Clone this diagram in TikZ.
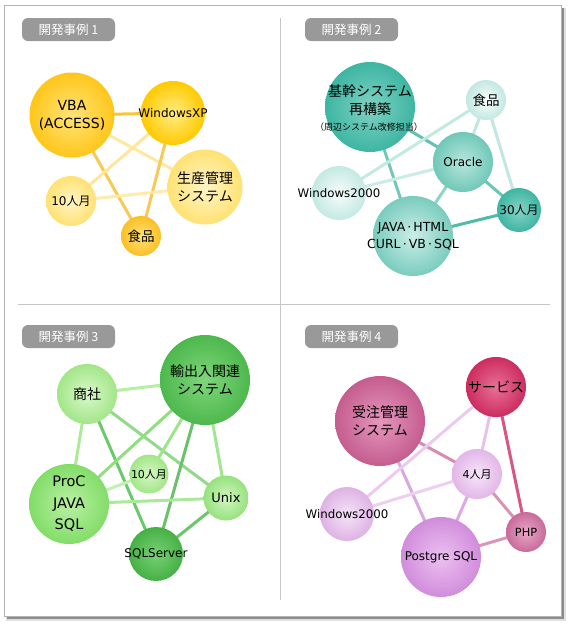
\documentclass[tikz,border=0pt]{standalone}
\usepackage{fontspec}
\setmainfont{DejaVu Sans}
\newfontfamily\jp{Noto Sans CJK JP}
\pgfdeclarelayer{bg}
\pgfdeclarelayer{edges}
\pgfsetlayers{bg,edges,main}
\tikzset{
  ball/.style n args={3}{circle, inner sep=0pt, minimum size=#1pt,
    /utils/exec={\definecolor{tmpo}{HTML}{#2}\definecolor{tmpi}{HTML}{#3}},
    outer color=tmpo, inner color=tmpi},
  lbl/.style={align=center, text=black, inner sep=0pt, font=\fontsize{#1}{18}\selectfont},
  jlbl/.style={align=center, text=black, inner sep=0pt, font=\jp\fontsize{#1}{18}\selectfont},
  edge/.style={line width=3pt, /utils/exec={\definecolor{tmpe}{HTML}{#1}}, draw=tmpe},
  tag/.style={fill=black!40, rounded corners=6pt, minimum width=93pt, minimum height=23pt, inner sep=0pt, text=white, font=\jp\fontsize{12.5}{14}\selectfont},
}
\begin{document}
\begin{tikzpicture}[x=1pt,y=-1pt]
\useasboundingbox (0,0) rectangle (570,630);
\begin{pgfonlayer}{bg}
  \fill[black!12] (6,8) rectangle (566,621);
  \fill[black!45] (7,8) rectangle (564,619);
  \draw[fill=white, draw=black!30, line width=1pt] (4,5) rectangle (561,616);
  \draw[black!22, line width=1pt] (280,18) -- (280,600);
  \draw[black!22, line width=1pt] (18,304) -- (550,304);
\end{pgfonlayer}
% tags
\node[tag] (t1) at (68.5,29.5) {開発事例 1};
\node[tag] (t2) at (351.5,29.5) {開発事例 2};
\node[tag] (t3) at (68.5,336.5) {開発事例 3};
\node[tag] (t4) at (351.5,336.5) {開発事例 4};

% ---------- panel 1
\node[ball={85}{FFC61A}{FFE47A}] (vba) at (72,115) {};
\node[lbl=14] (vbat) at (vba) {VBA\\(ACCESS)};
\node[ball={64}{FFCA00}{FFEC85}] (wxp) at (173,113) {};
\node[lbl=12] (wxpt) at (wxp) {WindowsXP};
\node[ball={75}{FFE273}{FFF4C6}] (seisan) at (205,187) {};
\node[jlbl=14] (seisant) at (seisan) {生産管理\\システム};
\node[ball={50}{FFE273}{FFF4C6}] (m10a) at (71,201) {};
\node[lbl=12] (m10at) at (m10a) {10{\jp 人月}};
\node[ball={40}{FBBF24}{FFE27A}] (food1) at (141,236) {};
\node[jlbl=13.5] (food1t) at (food1) {食品};
\begin{pgfonlayer}{edges}
  \draw[edge=F7C637] (vba.center) -- (wxp.center);
  \draw[edge=FFE8A0] (vba.center) -- (seisan.center);
  \draw[edge=F8CA55] (vba.center) -- (food1.center);
  \draw[edge=FFE69C] (wxp.center) -- (m10a.center);
  \draw[edge=F8CA55] (wxp.center) -- (food1.center);
  \draw[edge=FFEBAC] (m10a.center) -- (seisan.center);
\end{pgfonlayer}

% ---------- panel 2
\node[ball={90}{3DB6A2}{80D1C3}] (kikan) at (370,107) {};
\node[jlbl=14, anchor=north] (kikant) at (370,85) {基幹システム\\再構築};
\node[jlbl=9, anchor=north] (kikans) at (369,123) {（周辺システム改修担当）};
\node[ball={40}{C2E8E1}{FAFDFC}] (food2) at (486,100) {};
\node[jlbl=13.5] (food2t) at (food2) {食品};
\node[ball={60}{70C8B8}{B8E6DD}] (oracle) at (463,162) {};
\node[lbl=12] (oraclet) at (oracle) {Oracle};
\node[ball={54}{C4E9E2}{F7FCFB}] (w2k2) at (339,193) {};
\node[lbl=11.8] (w2k2t) at (w2k2) {Windows2000};
\node[ball={44}{3FB5A2}{86D3C6}] (m30) at (519,210) {};
\node[lbl=12] (m30t) at (m30) {30{\jp 人月}};
\node[ball={80}{7ACCBE}{CBEEE8}] (java2) at (413,236) {};
\node[lbl=12.5, font=\fontsize{12.5}{17}\selectfont] (java2t) at (java2) {JAVA\,·\,HTML\\CURL\,·\,VB\,·\,SQL};
\begin{pgfonlayer}{edges}
  \draw[edge=62C2B2] (kikan.center) -- (oracle.center);
  \draw[edge=72C7B8] (kikan.center) -- (java2.center);
  \draw[edge=C3E9E2] (food2.center) -- (w2k2.center);
  \draw[edge=C0E7E0] (food2.center) -- (oracle.center);
  \draw[edge=C0E7E0] (food2.center) -- (m30.center);
  \draw[edge=CAECE6] (oracle.center) -- (w2k2.center);
  \draw[edge=8FD4C7] (oracle.center) -- (java2.center);
  \draw[edge=6CC5B5] (oracle.center) -- (m30.center);
  \draw[edge=52BAA8] (java2.center) -- (m30.center);
\end{pgfonlayer}

% ---------- panel 3
\node[ball={60}{A2E688}{DAF8CB}] (shosha) at (87,394) {};
\node[jlbl=14] (shoshat) at (shosha) {商社};
\node[ball={90}{4DB84D}{80D67B}] (yushutsu) at (205,380) {};
\node[jlbl=14] (yushutsut) at (yushutsu) {輸出入関連\\システム};
\node[ball={39}{A2E688}{D6F7C7}] (m10c) at (149,474) {};
\node[lbl=11] (m10ct) at (m10c) {10{\jp 人月}};
\node[ball={80}{82DD68}{BAF0A4}] (proc) at (69,504) {};
\node[lbl=14.5, font=\fontsize{14.5}{21.5}\selectfont] (proct) at (proc) {ProC\\JAVA\\SQL};
\node[ball={45}{96E27C}{D2F6C3}] (unix) at (226,498) {};
\node[lbl=13] (unixt) at (unix) {Unix};
\node[ball={54}{46B046}{78D173}] (sqls) at (156,554) {};
\node[lbl=12] (sqlst) at (sqls) {SQLServer};
\begin{pgfonlayer}{edges}
  \draw[edge=B6EEA2] (shosha.center) -- (yushutsu.center);
  \draw[edge=AEE99A] (shosha.center) -- (proc.center);
  \draw[edge=6CC86C] (shosha.center) -- (sqls.center);
  \draw[edge=90DA8A] (shosha.center) -- (unix.center);
  \draw[edge=90DF7D] (yushutsu.center) -- (proc.center);
  \draw[edge=9DE48B] (yushutsu.center) -- (m10c.center);
  \draw[edge=6BC06B] (yushutsu.center) -- (sqls.center);
  \draw[edge=A2E692] (yushutsu.center) -- (unix.center);
  \draw[edge=C2F0B2] (proc.center) -- (m10c.center);
  \draw[edge=AAE89C] (proc.center) -- (unix.center);
  \draw[edge=6CC46C] (unix.center) -- (sqls.center);
\end{pgfonlayer}

% ---------- panel 4
\node[ball={60}{CC2C5E}{E87199}] (service) at (496,387) {};
\node[jlbl=14] (servicet) at (service) {サービス};
\node[ball={90}{C55D8F}{E497BD}] (juchu) at (380,421) {};
\node[jlbl=14] (juchut) at (juchu) {受注管理\\システム};
\node[ball={50}{E2B6E8}{F7E6F9}] (m4) at (477,474) {};
\node[lbl=11] (m4t) at (m4) {4{\jp 人月}};
\node[ball={54}{DEB2E4}{F6E4F8}] (w2k4) at (347,514) {};
\node[lbl=11.8] (w2k4t) at (w2k4) {Windows2000};
\node[ball={40}{C86A9B}{E8A8C6}] (php) at (526,532) {};
\node[lbl=11.3] (phpt) at (php) {PHP};
\node[ball={80}{D18DDB}{ECC0F1}] (pg) at (441,557) {};
\node[lbl=12] (pgt) at (pg) {Postgre SQL};
\begin{pgfonlayer}{edges}
  \draw[edge=D98BAF] (juchu.center) -- (m4.center);
  \draw[edge=DAA8E1] (juchu.center) -- (pg.center);
  \draw[edge=ECCAEF] (service.center) -- (w2k4.center);
  \draw[edge=E7C2E9] (service.center) -- (m4.center);
  \draw[edge=D85781] (service.center) -- (php.center);
  \draw[edge=EECFF0] (m4.center) -- (w2k4.center);
  \draw[edge=DEA8E4] (m4.center) -- (pg.center);
  \draw[edge=D994B4] (m4.center) -- (php.center);
  \draw[edge=DC95B9] (pg.center) -- (php.center);
\end{pgfonlayer}
\end{tikzpicture}
\end{document}
